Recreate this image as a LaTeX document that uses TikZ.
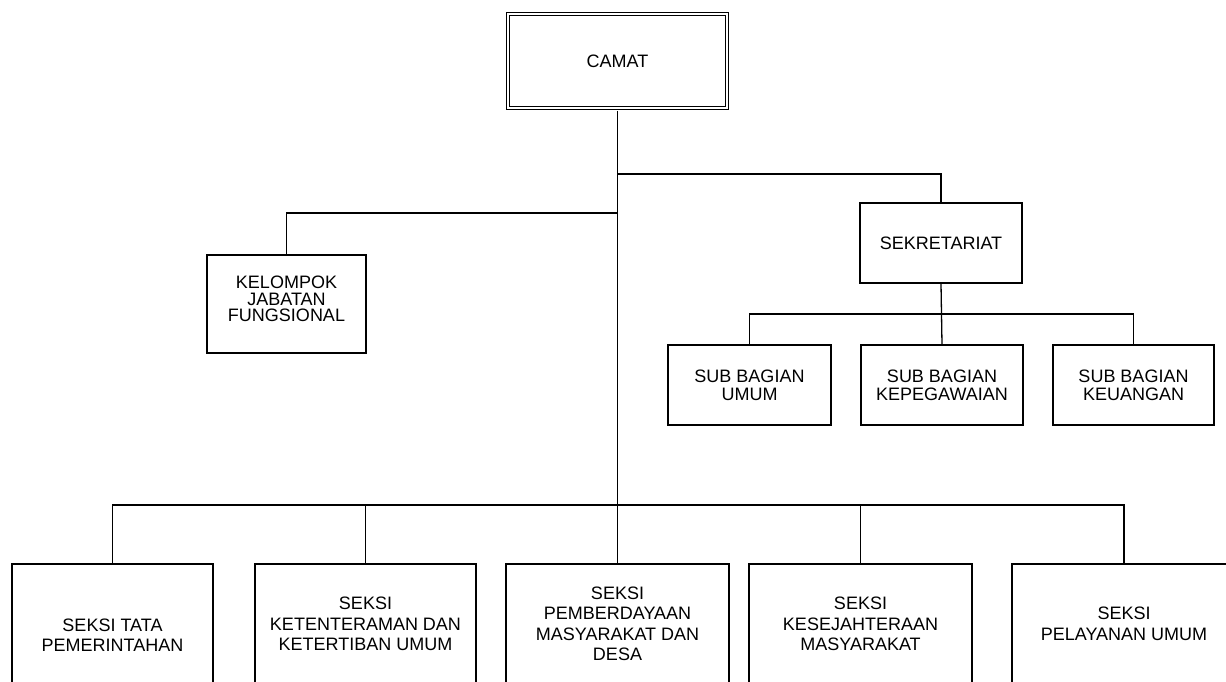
\documentclass[tikz,border=0pt]{standalone}
\usepackage{fontspec}
\setmainfont{Liberation Sans}
\begin{document}
\begin{tikzpicture}[x=1pt,y=-1pt,
  unit/.style={draw, line width=1.3pt, inner sep=0pt, align=center,
    font=\fontsize{18}{20.5}\selectfont},
  seksi/.style={unit, minimum height=120pt},
  subbox/.style={unit, minimum height=80pt, font=\fontsize{18}{18}\selectfont},
  txt/.style={inner sep=0pt, align=center},
  link/.style={line width=1.3pt}]
\useasboundingbox (0,0) rectangle (1226,681);
\clip (0,0) rectangle (1226,681);

% top
\node[draw, double, double distance=2.4pt, line width=1.1pt, inner sep=0pt,
      minimum width=219pt, minimum height=94pt,
      font=\fontsize{18}{20.5}\selectfont] (camat) at (617.5,61) {CAMAT};

% left: kelompok jabatan fungsional
\node[unit, minimum width=159pt, minimum height=98pt] (kel) at (286.5,304) {};
\node[txt, font=\fontsize{18}{16.5}\selectfont] (kelt) at ([yshift=5pt]kel.center)
  {KELOMPOK\\JABATAN\\FUNGSIONAL};

% sekretariat
\node[subbox, minimum width=162pt] (sek) at (941,243) {SEKRETARIAT};
\node[subbox, minimum width=163pt] (sb1) at (749.5,385) {SUB BAGIAN\\UMUM};
\node[subbox, minimum width=162pt] (sb2) at (942,385) {SUB BAGIAN\\KEPEGAWAIAN};
\node[subbox, minimum width=161pt] (sb3) at (1133.5,385) {SUB BAGIAN\\KEUANGAN};

% seksi
\node[seksi, minimum width=201pt] (s1) at (112.5,624) {};
\node[txt, font=\fontsize{18}{20.5}\selectfont] (s1t) at ([yshift=-11pt]s1.center)
  {SEKSI TATA\\PEMERINTAHAN};
\node[seksi, minimum width=221pt] (s2) at (365.5,624) {SEKSI\\KETENTERAMAN DAN\\KETERTIBAN UMUM};
\node[seksi, minimum width=223pt] (s3) at (617.5,624) {SEKSI\\PEMBERDAYAAN\\MASYARAKAT DAN\\DESA};
\node[seksi, minimum width=223pt] (s4) at (860.5,624) {SEKSI\\KESEJAHTERAAN\\MASYARAKAT};
\node[seksi, minimum width=224pt] (s5) at (1124,624) {SEKSI\\PELAYANAN UMUM};

% junctions
\coordinate (jR) at (618,174);
\coordinate (jL) at (618,213);
\coordinate (bar) at (618,505);
\coordinate (sbar) at (942,314);

% connectors
\draw[link] ([yshift=-2.4pt]camat.south) -- (s3.north);
\draw[link] (jR) -| (sek.north);
\draw[link] (jL) -| (kel.north);
\draw[link] (sek.south) -- (sb2.north);
\draw[link] (sb1.north) |- (sbar) -| (sb3.north);
\draw[link] (s1.north) |- (bar) -| (s5.north);
\draw[link] (s2.north) |- (bar);
\draw[link] (s4.north) |- (bar);
\end{tikzpicture}
\end{document}
